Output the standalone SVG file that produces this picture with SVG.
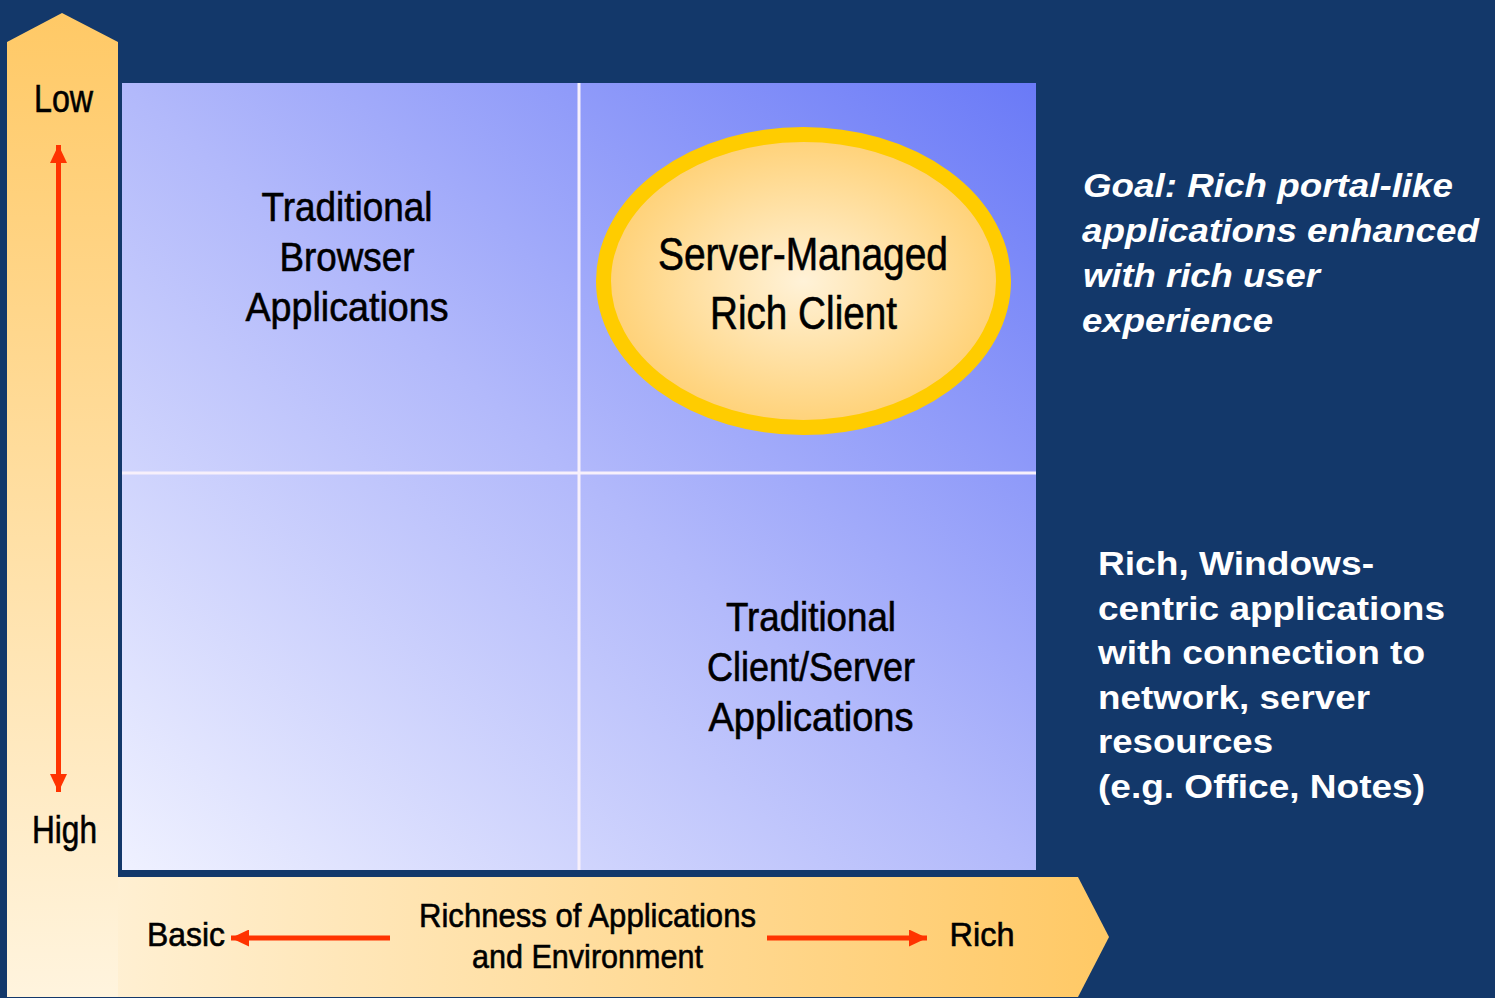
<svg xmlns="http://www.w3.org/2000/svg" width="1495" height="998" viewBox="0 0 1495 998">
<defs>
<style>
.narrow{font-family:"Liberation Sans Narrow","Liberation Sans",Arial,sans-serif;fill:#000;stroke:#000;stroke-width:0.6px;}
.lbl{font-size:41px;}
.oval{font-size:46px;}
.axis{font-size:38px;}
.axis2{font-size:34px;}
.note{font-family:"Liberation Sans",Arial,sans-serif;font-weight:bold;fill:#fff;font-size:34px;}
.goal{font-style:italic;}
.red{stroke:#ff3300;stroke-width:5;fill:none;}
</style>
<linearGradient id="gGrid" x1="0" y1="1" x2="1" y2="0">
<stop offset="0" stop-color="#eff1ff"/>
<stop offset="0.5" stop-color="#b2b9fb"/>
<stop offset="1" stop-color="#6a7af7"/>
</linearGradient>
<linearGradient id="gVert" gradientUnits="userSpaceOnUse" x1="0" y1="13" x2="0" y2="997">
<stop offset="0" stop-color="#ffc966"/>
<stop offset="1" stop-color="#fff4de"/>
</linearGradient>
<linearGradient id="gHorz" gradientUnits="userSpaceOnUse" x1="7" y1="0" x2="1100" y2="0">
<stop offset="0" stop-color="#fff4de"/>
<stop offset="1" stop-color="#ffc966"/>
</linearGradient>
<radialGradient id="gOval" cx="0.5" cy="0.5" r="0.5">
<stop offset="0" stop-color="#fff2d8"/>
<stop offset="1" stop-color="#ffd176"/>
</radialGradient>
<marker id="head" viewBox="0 0 18 17" refX="18" refY="8.5" markerWidth="18" markerHeight="17" markerUnits="userSpaceOnUse" orient="auto-start-reverse">
<path d="M0,0 L18,8.5 L0,17 z" fill="#ff3300"/>
</marker>
</defs>
<rect width="1495" height="998" fill="#13386a"/>
<g id="axis-vertical">
<polygon points="7,42 62,13 118,42 118,997 7,997" fill="url(#gVert)"/>
<text class="narrow axis" x="63.5" y="112" text-anchor="middle" textLength="59" lengthAdjust="spacingAndGlyphs">Low</text>
<text class="narrow axis" x="64.5" y="843" text-anchor="middle" textLength="65" lengthAdjust="spacingAndGlyphs">High</text>
</g>
<g id="axis-horizontal">
<polygon points="118,877 1078,877 1109,937 1078,997 118,997" fill="url(#gHorz)"/>
<text class="narrow axis2" x="186" y="946" text-anchor="middle" textLength="78" lengthAdjust="spacingAndGlyphs">Basic</text>
<text class="narrow axis2" x="982" y="946" text-anchor="middle" textLength="65" lengthAdjust="spacingAndGlyphs">Rich</text>
<text class="narrow axis2" x="587.5" y="927" text-anchor="middle" textLength="337" lengthAdjust="spacingAndGlyphs">Richness of Applications</text>
<text class="narrow axis2" x="587.5" y="968" text-anchor="middle" textLength="231" lengthAdjust="spacingAndGlyphs">and Environment</text>
</g>
<g id="grid">
<rect x="122" y="83" width="914" height="787" fill="url(#gGrid)"/>
<line x1="579" y1="83" x2="579" y2="870" stroke="#f7f0fb" stroke-width="3"/>
<line x1="122" y1="473" x2="1036" y2="473" stroke="#f7f0fb" stroke-width="3"/>
</g>
<g id="node-browser">
<text class="narrow lbl" x="347" y="221" text-anchor="middle" textLength="171" lengthAdjust="spacingAndGlyphs">Traditional</text>
<text class="narrow lbl" x="347" y="271" text-anchor="middle" textLength="135" lengthAdjust="spacingAndGlyphs">Browser</text>
<text class="narrow lbl" x="347" y="321" text-anchor="middle" textLength="203" lengthAdjust="spacingAndGlyphs">Applications</text>
</g>
<g id="node-rich-client">
<ellipse cx="803.5" cy="281" rx="200" ry="146.5" fill="url(#gOval)" stroke="#ffcc00" stroke-width="15"/>
<text class="narrow oval" x="803" y="270" text-anchor="middle" textLength="290" lengthAdjust="spacingAndGlyphs">Server-Managed</text>
<text class="narrow oval" x="803.5" y="329" text-anchor="middle" textLength="187" lengthAdjust="spacingAndGlyphs">Rich Client</text>
</g>
<g id="node-client-server">
<text class="narrow lbl" x="811" y="631" text-anchor="middle" textLength="170" lengthAdjust="spacingAndGlyphs">Traditional</text>
<text class="narrow lbl" x="811" y="681" text-anchor="middle" textLength="208" lengthAdjust="spacingAndGlyphs">Client/Server</text>
<text class="narrow lbl" x="811" y="731" text-anchor="middle" textLength="205" lengthAdjust="spacingAndGlyphs">Applications</text>
</g>
<g id="connectors">
<line class="red" x1="58.5" y1="145" x2="58.5" y2="792" marker-start="url(#head)" marker-end="url(#head)"/>
<line class="red" x1="390" y1="938" x2="231" y2="938" marker-end="url(#head)"/>
<line class="red" x1="767" y1="938" x2="927" y2="938" marker-end="url(#head)"/>
</g>
<g id="note-goal">
<text class="note goal" x="1083" y="197" textLength="370" lengthAdjust="spacingAndGlyphs">Goal: Rich portal-like</text>
<text class="note goal" x="1082" y="242" textLength="397" lengthAdjust="spacingAndGlyphs">applications enhanced</text>
<text class="note goal" x="1083" y="287" textLength="237" lengthAdjust="spacingAndGlyphs">with rich user</text>
<text class="note goal" x="1082" y="332" textLength="191" lengthAdjust="spacingAndGlyphs">experience</text>
</g>
<g id="note-windows">
<text class="note" x="1098" y="575" textLength="276" lengthAdjust="spacingAndGlyphs">Rich, Windows-</text>
<text class="note" x="1098" y="620" textLength="347" lengthAdjust="spacingAndGlyphs">centric applications</text>
<text class="note" x="1098" y="664" textLength="327" lengthAdjust="spacingAndGlyphs">with connection to</text>
<text class="note" x="1098" y="709" textLength="272" lengthAdjust="spacingAndGlyphs">network, server</text>
<text class="note" x="1098" y="753" textLength="175" lengthAdjust="spacingAndGlyphs">resources</text>
<text class="note" x="1098" y="798" textLength="327" lengthAdjust="spacingAndGlyphs">(e.g. Office, Notes)</text>
</g>
</svg>
